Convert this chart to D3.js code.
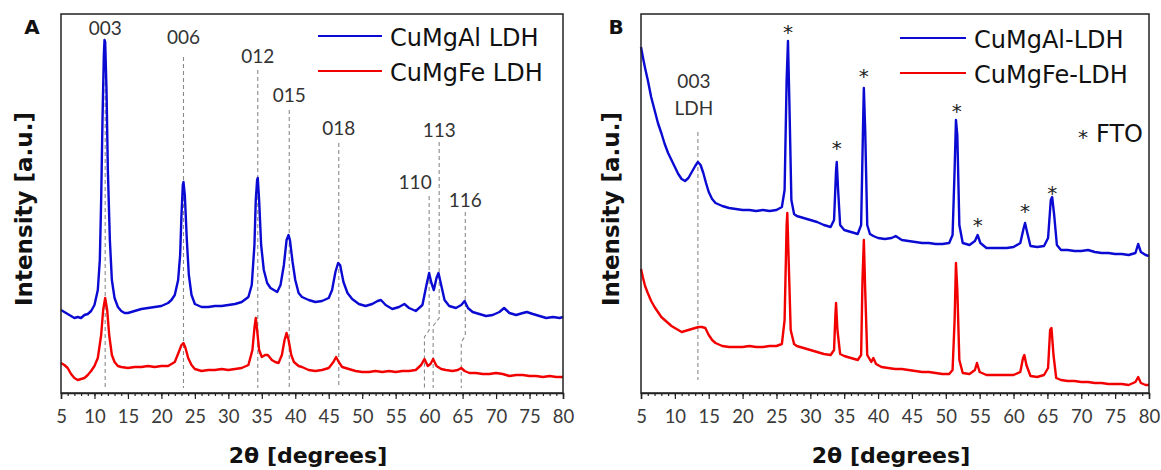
<!DOCTYPE html>
<html><head><meta charset="utf-8">
<script src="https://cdn.jsdelivr.net/npm/d3@7/dist/d3.min.js"></script>
<style>
html,body{margin:0;padding:0;background:#fff;}
svg{display:block;}
</style></head>
<body>
<svg id="chart" width="1161" height="470"></svg>
<script>
// ---------------- DATA ----------------
const xTicks = [5,10,15,20,25,30,35,40,45,50,55,60,65,70,75,80];
const seriesNames = ["CuMgAl LDH","CuMgFe LDH"];
const seriesNamesB = ["CuMgAl-LDH","CuMgFe-LDH"];

// Panel A: [2theta, intensity a.u.]
const aCuMgAl = [[5,83],[5.5,81],[6,79],[6.5,77],[7,75],[7.5,76],[8,75],[8.5,78],[9,79],[9.5,82],[10,88],[10.5,103],[10.8,133],[11.0,193],[11.2,273],[11.4,338],[11.5,353],[11.6,351],[11.8,303],[12.0,223],[12.3,153],[12.6,113],[13,95],[13.5,86],[14,82],[14.5,80],[15,80],[16,82],[17,84],[18,85],[19,86],[20,87],[21,90],[21.5,93],[22,98],[22.5,113],[22.8,138],[23.0,178],[23.2,208],[23.3,211],[23.5,198],[23.8,153],[24.1,118],[24.5,98],[25,89],[26,86],[27,86],[28,87],[29,87],[30,88],[31,89],[32,91],[33,96],[33.5,108],[33.9,148],[34.1,193],[34.3,213],[34.4,215],[34.6,193],[34.9,148],[35.3,123],[35.8,110],[36.3,105],[36.8,103],[37.3,101],[37.8,108],[38.3,128],[38.7,153],[39.0,158],[39.2,153],[39.6,131],[40,113],[40.5,100],[41,96],[42,93],[43,91],[44,92],[45,95],[45.5,103],[46,121],[46.4,130],[46.7,128],[47.2,111],[47.8,100],[48.5,94],[49.5,89],[50.5,87],[51.5,89],[52.3,92],[52.8,93],[53.5,88],[54.5,84],[55.5,86],[56.3,89],[57,85],[58,82],[59,88],[59.6,108],[60.0,120],[60.3,111],[60.7,103],[61.1,115],[61.4,120],[61.8,108],[62.3,93],[63,87],[64,85],[64.8,88],[65.3,92],[65.8,85],[66.5,81],[67.5,79],[68.5,77],[69.5,78],[70.5,81],[71.2,85],[72,80],[73,78],[74,80],[74.6,81],[75.5,79],[76.5,77],[77.5,75],[78.5,76],[79.5,75],[80,76]];
const aCuMgFe = [[5,30],[5.5,28],[6,25],[6.5,19],[7,15],[7.5,13],[8,14],[8.5,15],[9,18],[9.5,22],[10,27],[10.5,35],[11.0,58],[11.3,83],[11.6,95],[11.9,83],[12.2,58],[12.6,38],[13,31],[13.5,27],[14,26],[15,25],[16,26],[17,26],[18,27],[19,26],[20,27],[21,27],[22,31],[22.6,41],[23.0,48],[23.3,50],[23.6,45],[24.0,35],[24.5,28],[25,24],[26,22],[27,23],[28,23],[29,24],[30,23],[31,24],[32,25],[33,28],[33.6,43],[33.9,65],[34.1,75],[34.3,63],[34.6,43],[35.0,36],[35.5,38],[35.9,38],[36.5,33],[37,31],[37.5,30],[38.0,38],[38.4,53],[38.7,60],[39.0,53],[39.4,38],[39.8,31],[40.5,27],[41,26],[42,23],[43,22],[44,23],[45,25],[45.7,31],[46.1,36],[46.5,31],[47,26],[48,24],[49,22],[50,21],[51,21],[52,22],[53,21],[54,22],[55,21],[56,22],[57,22],[58,23],[58.8,28],[59.3,34],[59.8,27],[60.2,29],[60.6,34],[61.1,27],[61.8,24],[62.5,23],[63.5,22],[64.3,23],[64.8,25],[65.3,22],[66,20],[67,20],[68,19],[69,19],[70,20],[71,19],[72,17],[73,18],[74,18],[75,17],[76,17],[77,16],[78,17],[79,16],[80,16]];

// Panel B
const bCuMgAl = [[5,346],[5.3,335],[5.6,325],[6,313],[6.5,296],[7,283],[7.5,270],[8,260],[8.5,249],[9,240],[9.5,233],[10,226],[10.5,219],[11,214],[11.5,212],[12,215],[12.5,221],[13,227],[13.4,231],[13.8,228],[14.2,220],[14.6,210],[15,201],[15.5,194],[16,190],[17,187],[18,185],[19,184],[20,183],[21,183],[22,182],[23,183],[24,182],[25,183],[25.8,186],[26.2,203],[26.5,313],[26.7,352],[26.9,293],[27.2,193],[27.6,179],[28,177],[29,175],[30,173],[31,171],[32,168],[33,166],[33.5,173],[33.8,223],[33.9,231],[34.1,203],[34.4,168],[35,163],[35.5,162],[36,161],[36.5,160],[37,159],[37.5,168],[37.8,273],[37.9,305],[38.1,263],[38.4,168],[38.8,159],[39.3,157],[40,155],[41,154],[42,155],[42.6,157],[43.5,153],[44.5,152],[45.5,151],[46.5,150],[47.5,150],[48.5,149],[49.5,149],[50.5,150],[51.0,158],[51.3,223],[51.5,273],[51.7,258],[52.0,168],[52.5,150],[53.5,148],[54.3,152],[54.7,158],[55.1,150],[56,145],[57,145],[58,145],[59,145],[60,146],[61,150],[61.5,165],[61.7,170],[62.0,161],[62.5,147],[63.5,146],[64.5,147],[65.1,155],[65.5,193],[65.7,196],[66.0,178],[66.4,148],[67,143],[68,143],[69,142],[70,142],[71,143],[72,141],[73,140],[74,140],[75,139],[76,139],[77,138],[78,140],[78.4,149],[78.8,141],[79.5,138],[80,137]];
const bCuMgFe = [[5,124],[5.3,115],[5.6,107],[6,100],[6.5,92],[7,86],[7.5,81],[8,76],[8.5,73],[9,70],[9.5,67],[10,65],[10.5,63],[11,61],[11.5,62],[12,63],[12.5,64],[13,65],[13.5,66],[14,66],[14.5,65],[15,58],[15.5,53],[16,50],[17,47],[18,46],[19,46],[20,46],[21,47],[22,46],[23,46],[24,47],[25,47],[25.8,49],[26.2,73],[26.5,168],[26.6,180],[26.8,133],[27.1,63],[27.6,49],[28,47],[29,45],[30,43],[31,41],[32,39],[33,38],[33.5,43],[33.7,78],[33.8,90],[34.0,63],[34.4,39],[35,37],[36,35],[37,33],[37.5,38],[37.7,113],[37.9,153],[38.1,103],[38.4,38],[39,31],[39.3,35],[39.7,29],[40.5,26],[41.5,25],[42.5,24],[43.5,24],[44.5,23],[45.5,22],[46.5,21],[47.5,21],[48.5,20],[49.5,19],[50.5,19],[51.0,23],[51.3,73],[51.5,130],[51.7,103],[52.0,33],[52.5,20],[53.5,19],[54.3,23],[54.6,30],[55.0,21],[56,18],[57,18],[58,18],[59,18],[60,18],[61,21],[61.4,35],[61.6,38],[61.9,28],[62.5,17],[63.5,16],[64.5,18],[65.1,25],[65.4,63],[65.6,65],[65.9,38],[66.3,15],[67,13],[68,12],[69,12],[70,11],[71,11],[72,10],[73,10],[74,9],[75,9],[76,9],[77,8],[78,11],[78.4,16],[78.8,10],[79.5,8],[80,8]];

// Reflection labels (panel A)
const hklLabels = ["003","006","012","015","018","110","113","116"];
const hklPosUpper = [11.6,23.3,34.4,39.1,46.5,60.0,61.5,65.4];   // CuMgAl peak positions
const hklPosLower = [11.6,23.3,34.4,39.1,46.5,59.3,60.6,64.8];   // CuMgFe peak positions
// FTO reflections (panel B)
const ftoPeaks = [26.7,33.9,37.9,51.6,54.7,61.7,65.7];
const ldhB = {label1:"003", label2:"LDH", pos:13.4};

// ---------------- LAYOUT ----------------
const hklLabelY = [35,44,63,102,135,189,137,207];
const hklLineTop = [40,57,70,110,143,196,142,212];
const hklKink = [null,null,null,null,null,[330,337],[318,326],[336,342]];
const ftoStarY = [28,144,72,107,221,207,189];

const svg = d3.select("#chart");
const blue = "#0a0ad2", red = "#f20000";
const tickFont = "Lato, 'Open Sans', sans-serif";
const legFont = "'DejaVu Sans', sans-serif";
const boldFont = "'DejaVu Sans', sans-serif";

function panel(opt){
  const x = d3.scaleLinear().domain([5,80]).range([opt.x0,opt.x1]);
  const y = d3.scaleLinear().domain([0,379]).range([393,14]);
  const g = svg.append("g");
  opt.draw(g,x,y);
  const line = d3.line().x(d=>x(d[0])).y(d=>y(d[1]));
  opt.series.forEach((s,i)=>{
    g.append("path").datum(s.data).attr("d",line).attr("fill","none")
      .attr("stroke",s.color).attr("stroke-width",2.4).attr("stroke-linejoin","round");
  });
  // frame
  g.append("rect").attr("x",opt.x0).attr("y",14).attr("width",opt.x1-opt.x0).attr("height",379)
    .attr("fill","none").attr("stroke","#222").attr("stroke-width",1.5);
  // minor ticks
  const minor = d3.range(5,81,1);
  g.append("g").attr("transform","translate(0,393)")
    .call(d3.axisBottom(x).tickValues(minor).tickSize(3).tickFormat(""))
    .call(a=>{a.select(".domain").remove(); a.selectAll("line").attr("stroke","#222").attr("stroke-width",1.2);});
  g.append("g").attr("transform","translate(0,393)")
    .call(d3.axisBottom(x).tickValues(xTicks).tickSize(6).tickPadding(11))
    .call(a=>{a.select(".domain").attr("stroke","#222").attr("stroke-width",1.5);
      a.selectAll("line").attr("stroke","#222").attr("stroke-width",1.2);
      a.selectAll("text").attr("font-family",tickFont).attr("font-size",18.5).attr("fill","#3a3a3a");});
  // axis titles
  g.append("text").attr("x",(opt.x0+opt.x1)/2-4).attr("y",463).attr("text-anchor","middle")
    .attr("font-family",boldFont).attr("font-weight","bold").attr("font-size",22).attr("fill","#111")
    .text("2θ [degrees]");
  g.append("text").attr("transform",`translate(${opt.ylx},209) rotate(-90)`).attr("text-anchor","middle")
    .attr("font-family",boldFont).attr("font-weight","bold").attr("font-size",23).attr("fill","#111")
    .text("Intensity [a.u.]");
  g.append("text").attr("x",opt.lx).attr("y",34).attr("text-anchor","middle")
    .attr("font-family",boldFont).attr("font-weight","bold").attr("font-size",20).attr("fill","#111")
    .text(opt.letter);
  // legend
  opt.series.forEach((s,i)=>{
    const ly = opt.legY[i];
    g.append("line").attr("x1",opt.legX0).attr("x2",opt.legX1).attr("y1",ly).attr("y2",ly)
      .attr("stroke",s.color).attr("stroke-width",2.2);
    g.append("text").attr("x",opt.legX1+8).attr("y",ly+10).attr("font-family",legFont)
      .attr("font-size",24).attr("fill","#111").text(s.name);
  });
  return {x,y,g};
}

// Panel A
panel({x0:61,x1:563,ylx:32,lx:32,letter:"A",legX0:318,legX1:382,legY:[36,71],
  series:[{data:aCuMgAl,color:blue,name:seriesNames[0]},{data:aCuMgFe,color:red,name:seriesNames[1]}],
  draw:(g,x,y)=>{
    hklLabels.forEach((lab,i)=>{
      const xu = x(hklPosUpper[i]), xl = x(hklPosLower[i]);
      let pts;
      if(hklKink[i]) pts = [[xu,hklLineTop[i]],[xu,hklKink[i][0]],[xl,hklKink[i][1]],[xl,388]];
      else pts = [[xu,hklLineTop[i]],[xu,388]];
      g.append("path").attr("d",d3.line()(pts)).attr("fill","none").attr("stroke","#8a8a8a")
        .attr("stroke-width",1.1).attr("stroke-dasharray","4,3");
      g.append("text").attr("x",xu+(i===5?-14:0)).attr("y",hklLabelY[i]).attr("text-anchor","middle")
        .attr("font-family",tickFont).attr("font-size",19).attr("fill","#333").text(lab);
    });
  }});

// Panel B
panel({x0:641,x1:1149,ylx:619,lx:616,letter:"B",legX0:900,legX1:966,legY:[38,73],
  series:[{data:bCuMgAl,color:blue,name:seriesNamesB[0]},{data:bCuMgFe,color:red,name:seriesNamesB[1]}],
  draw:(g,x,y)=>{
    const xl = x(ldhB.pos);
    g.append("line").attr("x1",xl).attr("x2",xl).attr("y1",132).attr("y2",380)
      .attr("stroke","#8a8a8a").attr("stroke-width",1.1).attr("stroke-dasharray","4,3");
    g.append("text").attr("x",xl-4).attr("y",88).attr("text-anchor","middle")
      .attr("font-family",tickFont).attr("font-size",19).attr("fill","#333").text(ldhB.label1);
    g.append("text").attr("x",xl-4).attr("y",115).attr("text-anchor","middle")
      .attr("font-family",tickFont).attr("font-size",19).attr("fill","#333").text(ldhB.label2);
    ftoPeaks.forEach((p,i)=>{
      g.append("text").attr("x",x(p)).attr("y",ftoStarY[i]+11).attr("text-anchor","middle")
        .attr("font-family",legFont).attr("font-size",20).attr("fill","#222").text("*");
    });
    g.append("text").attr("x",1083).attr("y",144).attr("text-anchor","middle")
      .attr("font-family",legFont).attr("font-size",20).attr("fill","#222").text("*");
    g.append("text").attr("x",1096).attr("y",142)
      .attr("font-family",legFont).attr("font-size",24).attr("fill","#111").text("FTO");
  }});
</script>
</body></html>
